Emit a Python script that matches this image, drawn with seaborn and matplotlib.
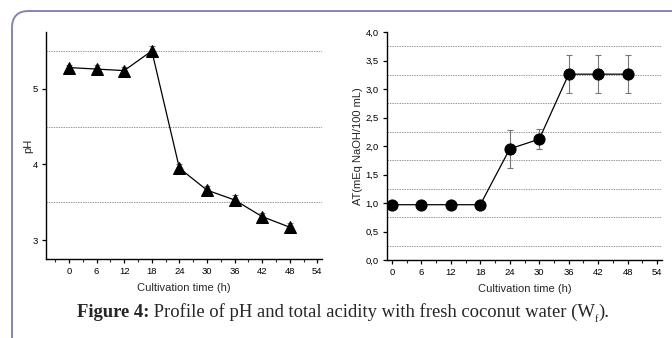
import matplotlib
matplotlib.use("Agg")
import matplotlib.pyplot as plt
import seaborn as sns
import pandas as pd
import numpy as np
from matplotlib.ticker import MultipleLocator, FuncFormatter
from matplotlib.patches import FancyBboxPatch

# ---- data ----
time_h = [0, 6, 12, 18, 24, 30, 36, 42, 48]
ph_values = [5.28, 5.26, 5.24, 5.50, 3.95, 3.66, 3.53, 3.31, 3.17]
ph_err = [0.04, 0.05, 0.05, 0.07, 0.05, 0.06, 0.06, 0.05, 0.05]
at_values = [0.97, 0.97, 0.97, 0.97, 1.95, 2.12, 3.26, 3.26, 3.26]
at_err = [0.02, 0.02, 0.02, 0.02, 0.33, 0.17, 0.33, 0.33, 0.33]
x_ticks = [0, 6, 12, 18, 24, 30, 36, 42, 48, 54]
ph_ticks = [3, 4, 5]
at_ticks = [0.0, 0.5, 1.0, 1.5, 2.0, 2.5, 3.0, 3.5, 4.0]
ph_grid = [3.5, 4.5, 5.5]
at_grid = [0.25, 0.75, 1.25, 1.75, 2.25, 2.75, 3.25, 3.75]

sns.set_theme(style="ticks")
plt.rcParams['font.family'] = ['Liberation Sans', 'DejaVu Sans']

df = pd.DataFrame({"time": time_h, "ph": ph_values, "at": at_values})

fig = plt.figure(figsize=(6.72, 3.38), dpi=100)
fig.patch.set_facecolor("white")

# frame
frame = FancyBboxPatch((12/672, -0.2), 1.2, 1 - 11/338 + 0.2,
                       boxstyle="round,pad=0,rounding_size=0.025",
                       transform=fig.transFigure, fill=False,
                       edgecolor="#8585b5", linewidth=1.4, mutation_aspect=672/338)
fig.patches.append(frame)

ax1 = fig.add_axes([46/672, 1 - 259/338, (322 - 46)/672, (259 - 32)/338])
ax2 = fig.add_axes([387/672, 1 - 260/338, (662 - 387)/672, (260 - 32)/338])

grid_kw = dict(color="#9a9a9a", linestyle=(0, (1.5, 1.0)), linewidth=0.7, zorder=0)

# pH
for g in ph_grid:
    ax1.axhline(g, **grid_kw)
ax1.errorbar(time_h, ph_values, yerr=ph_err, fmt="none", ecolor="#777777",
             elinewidth=0.8, capsize=2.5, capthick=0.8, zorder=2)
sns.lineplot(data=df, x="time", y="ph", ax=ax1, color="black", linewidth=0.9,
             marker="^", markersize=8.5, markeredgecolor="black", zorder=3)
ax1.set_xlim(-5, 55)
ax1.set_ylim(2.75, 5.75)
ax1.set_yticks(ph_ticks)
ax1.set_ylabel("pH", fontsize=8)

# AT
for g in at_grid:
    ax2.axhline(g, **grid_kw)
ax2.errorbar(time_h, at_values, yerr=at_err, fmt="none", ecolor="#777777",
             elinewidth=0.8, capsize=2.5, capthick=0.8, zorder=2)
sns.lineplot(data=df, x="time", y="at", ax=ax2, color="black", linewidth=0.9,
             marker="o", markersize=8, markeredgecolor="black", zorder=3)
ax2.set_xlim(-1, 55)
ax2.set_ylim(0, 4.0)
ax2.set_yticks(at_ticks)
ax2.yaxis.set_major_formatter(FuncFormatter(lambda v, p: f"{v:.1f}".replace(".", ",")))
ax2.set_ylabel("AT(mEq NaOH/100 mL)", fontsize=8)

for ax in (ax1, ax2):
    ax.set_facecolor("white")
    ax.set_xticks(x_ticks)
    ax.xaxis.set_minor_locator(MultipleLocator(3))
    ax.set_xlabel("Cultivation time (h)", fontsize=8, labelpad=5)
    for s in ("top", "right"):
        ax.spines[s].set_visible(False)
    for s in ("left", "bottom"):
        ax.spines[s].set_linewidth(1.0)
        ax.spines[s].set_color("black")
    ax.tick_params(axis="both", which="major", direction="out", length=3,
                   width=0.9, labelsize=6.8, pad=3, colors="black")
    ax.tick_params(axis="x", which="minor", direction="out", length=2, width=0.8)

ax1.yaxis.set_label_coords(-13/276, 0.5)
ax2.yaxis.set_label_coords(-24/275, 0.5)

# caption built from pieces
fig.canvas.draw()
renderer = fig.canvas.get_renderer()
cap_fs = 13.4
cap_y = 1 - 317/338
pieces = [("Figure 4:", "bold", cap_fs, 0),
          (" Profile of pH and total acidity with fresh coconut water (W", "normal", cap_fs, 0),
          ("f", "normal", cap_fs * 0.55, -5),
          (").", "normal", cap_fs, 0)]
texts = []
for s, w, fs, dy in pieces:
    t = fig.text(0, cap_y, s, fontsize=fs, weight=w, family="Liberation Serif",
                 va="baseline", ha="left")
    texts.append((t, dy))
widths = [t.get_window_extent(renderer).width for t, _ in texts]
total = sum(widths)
x = 343 - total / 2
for (t, dy), w in zip(texts, widths):
    t.set_position((x / 672, cap_y + dy / 338))
    x += w

fig.savefig("out.png", dpi=100)
